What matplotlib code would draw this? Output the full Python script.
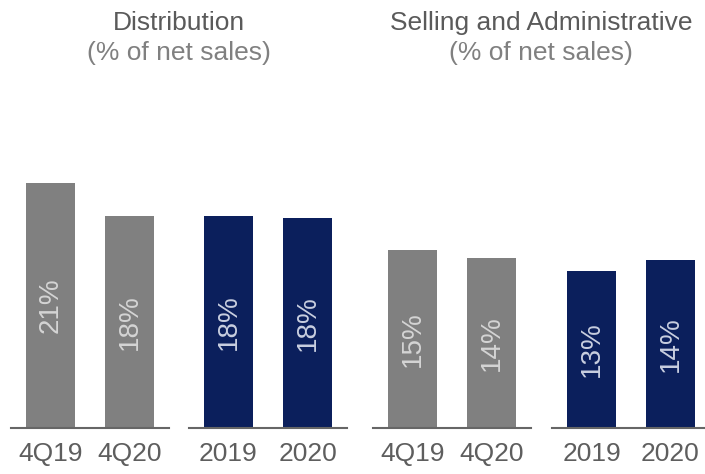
import matplotlib
matplotlib.use('Agg')
import matplotlib.pyplot as plt

plt.rcParams['font.family'] = ['Liberation Sans', 'DejaVu Sans']

# data
dist_quarter = ['4Q19', '4Q20']
dist_quarter_vals = [20.8, 18.0]
dist_quarter_lbls = ['21%', '18%']
dist_year = ['2019', '2020']
dist_year_vals = [18.0, 17.8]
dist_year_lbls = ['18%', '18%']

sga_quarter = ['4Q19', '4Q20']
sga_quarter_vals = [15.1, 14.4]
sga_quarter_lbls = ['15%', '14%']
sga_year = ['2019', '2020']
sga_year_vals = [13.3, 14.2]
sga_year_lbls = ['13%', '14%']

gray = '#808080'
navy = '#0b1f5c'

W, H = 705, 474
fig = plt.figure(figsize=(W / 100, H / 100), dpi=100)

groups = [
    (11, dist_quarter, dist_quarter_vals, dist_quarter_lbls, gray),
    (189, dist_year, dist_year_vals, dist_year_lbls, navy),
    (373, sga_quarter, sga_quarter_vals, sga_quarter_lbls, gray),
    (552, sga_year, sga_year_vals, sga_year_lbls, navy),
]

base_y = 428
ymax = 25
px_per = 11.8
for left, cats, vals, lbls, col in groups:
    ax = fig.add_axes([left / W, (H - base_y) / H, 158 / W, ymax * px_per / H])
    x = range(len(cats))
    ax.bar(x, vals, width=0.62, color=col)
    for xi, v, l in zip(x, vals, lbls):
        ax.text(xi, v / 2, l, rotation=90, ha='center', va='center',
                fontsize=20, color='#d4d4d4' if col == gray else '#c9cfe0')
    ax.set_xlim(-0.5, 1.5)
    ax.set_ylim(0, ymax)
    ax.set_xticks(list(x))
    ax.set_xticklabels(cats, fontsize=19, color='#5e5e5e')
    ax.tick_params(axis='x', length=0, pad=10)
    ax.set_yticks([])
    for s in ['top', 'left', 'right']:
        ax.spines[s].set_visible(False)
    ax.spines['bottom'].set_color('#666666')
    ax.spines['bottom'].set_linewidth(1.5)

fig.text(179 / W, 1 - 23 / H, 'Distribution', ha='center', va='center',
         fontsize=19, color='#5a5a5a')
fig.text(179 / W, 1 - 53 / H, '(% of net sales)', ha='center', va='center',
         fontsize=19, color='#808080')
fig.text(541 / W, 1 - 23 / H, 'Selling and Administrative', ha='center', va='center',
         fontsize=19, color='#5a5a5a')
fig.text(541 / W, 1 - 53 / H, '(% of net sales)', ha='center', va='center',
         fontsize=19, color='#808080')

fig.savefig('out.png', dpi=100)
